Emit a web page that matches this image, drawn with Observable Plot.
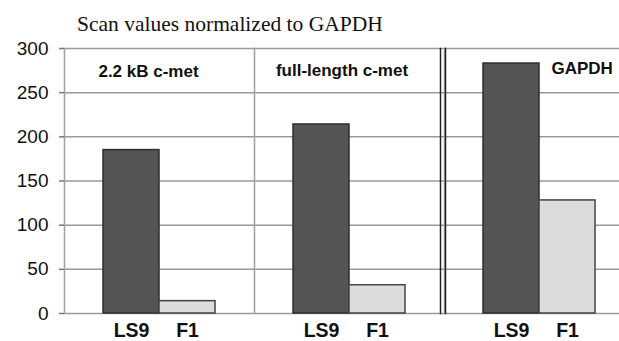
<!DOCTYPE html>
<html>
<head>
<meta charset="utf-8">
<script src="https://cdn.jsdelivr.net/npm/d3@7"></script>
<script src="https://cdn.jsdelivr.net/npm/@observablehq/plot@0.6"></script>
<style>
  html, body { margin: 0; padding: 0; background: #fff; overflow: hidden; }
  #title { font-family: "Liberation Serif", "Times New Roman", serif; font-size: 21.5px; line-height: 21px;
           height: 38px; box-sizing: border-box; padding-top: 14px; padding-left: 77px; color: #111; white-space: nowrap; }
  svg { display: block; overflow: hidden; }
</style>
</head>
<body>
<div id="title">Scan values normalized to GAPDH</div>
<div id="chart"></div>
<script>
const groups = ["2.2 kB c-met", "full-length c-met", "GAPDH"];
const samples = ["LS9", "F1"];
const ls9Values = [185, 214, 283];
const f1Values = [14, 32, 128];
const yTicks = [0, 50, 100, 150, 200, 250, 300];

const data = groups.flatMap((g, i) => [
  {group: g, sample: "LS9", value: ls9Values[i]},
  {group: g, sample: "F1", value: f1Values[i]}
]);
const panels = groups.map(g => ({group: g}));

const chart = Plot.plot({
  width: 619,
  height: 303,
  marginLeft: 63,
  marginRight: -16,
  marginTop: 10,
  marginBottom: 28,
  style: {fontFamily: "Liberation Sans, Arial, sans-serif", color: "#111", background: "#fff"},
  fx: {domain: groups, paddingInner: 0, paddingOuter: 0, axis: null, label: null},
  x: {domain: samples, paddingInner: 0, paddingOuter: 0.687, label: null},
  y: {domain: [0, 300], label: null},
  color: {domain: samples, range: ["#545454", "#dcdcdc"]},
  marks: [
    Plot.gridY(yTicks, {stroke: "#9a9a9a", strokeOpacity: 1, strokeWidth: 1.5}),
    Plot.frame({anchor: "left", stroke: "#a0a0a0", strokeWidth: 1.5}),
    Plot.frame({anchor: "left", fx: ["GAPDH"], stroke: "#222", strokeWidth: 1.5, dx: -4}),
    Plot.frame({anchor: "left", fx: ["GAPDH"], stroke: "#222", strokeWidth: 1.5, dx: 1}),
    Plot.barY(data, {fx: "group", x: "sample", y: "value", fill: "sample",
      stroke: d => d.sample === "LS9" ? "#2e2e2e" : "#444", strokeWidth: 1.5}),
    Plot.axisY(yTicks, {tickSize: 5, tickPadding: 11, fontSize: 19, stroke: "#777", strokeWidth: 1.5, label: null}),
    Plot.axisX({tickSize: 0, tickPadding: 9.5, fontSize: 19.5, fontWeight: "bold", label: null}),
    Plot.text(panels.filter(d => d.group === groups[0]), {fx: "group", text: "group", frameAnchor: "top",
      dy: 23.5, dx: -11, lineAnchor: "middle", fontSize: 17, fontWeight: "bold", fill: "#111"}),
    Plot.text(panels.filter(d => d.group === groups[1]), {fx: "group", text: "group", frameAnchor: "top",
      dy: 22.5, dx: -7.5, lineAnchor: "middle", fontSize: 17, fontWeight: "bold", fill: "#111"}),
    Plot.text(panels.filter(d => d.group === groups[2]), {fx: "group", text: "group", frameAnchor: "top",
      dy: 20.5, dx: 12, textAnchor: "start", lineAnchor: "middle", fontSize: 17, fontWeight: "bold", fill: "#111"})
  ]
});
document.getElementById("chart").appendChild(chart);
</script>
</body>
</html>
